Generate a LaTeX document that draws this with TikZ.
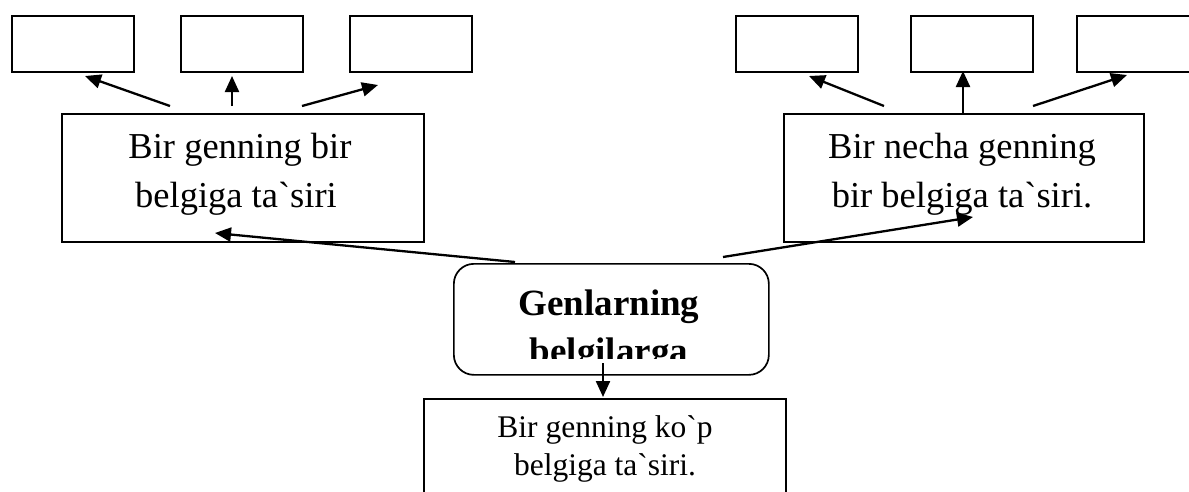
\documentclass[tikz,border=0pt]{standalone}
\usepackage{fontspec}
\setmainfont{Liberation Serif}
\usetikzlibrary{arrows.meta}
\begin{document}
\begin{tikzpicture}[x=1pt,y=-1pt,
  emptybox/.style={draw,line width=1.5pt,minimum width=122pt,minimum height=56pt,anchor=north west,inner sep=0pt},
  bigbox/.style={draw,line width=1.7pt,anchor=north west,inner sep=0pt},
  bigtxt/.style={anchor=base,inner sep=0pt,font=\fontsize{36.5}{49}\selectfont},
  smalltxt/.style={anchor=base,inner sep=0pt,font=\fontsize{31.5}{38}\selectfont},
  boldtxt/.style={anchor=base,inner sep=0pt,font=\fontsize{37}{49}\selectfont\bfseries},
  arr/.style={-{Triangle[length=16pt,width=14pt]},line width=2.3pt}]
\useasboundingbox (0,0) rectangle (1189,491);
\fill[white] (0,0) rectangle (1189,491);
% top-left small boxes
\node[emptybox] (tl1) at (11,15) {};
\node[emptybox] (tl2) at (180,15) {};
\node[emptybox] (tl3) at (349,15) {};
% top-right small boxes
\node[emptybox] (tr1) at (735,15) {};
\node[emptybox] (tr2) at (910,15) {};
\node[emptybox] (tr3) at (1076,15) {};
% main boxes
\node[bigbox,minimum width=362pt,minimum height=128pt] (L) at (61,113) {};
\node[bigbox,minimum width=360pt,minimum height=128pt] (R) at (783,113) {};
\node[bigbox,minimum width=362pt,minimum height=120pt] (B) at (423,398) {};
\node[draw,line width=1.7pt,rounded corners=20pt,minimum width=315pt,minimum height=111pt,anchor=north west,inner sep=0pt] (C) at (453,263) {};
% texts
\node[bigtxt] (L1) at (240,158) {Bir genning bir};
\node[bigtxt] (L2) at (236,207) {belgiga ta\textasciigrave siri};
\node[bigtxt] (R1) at (962,158) {Bir necha genning};
\node[bigtxt] (R2) at (962,207) {bir belgiga ta\textasciigrave siri.};
\node[smalltxt] (B1) at (605,437) {Bir genning ko\textasciigrave p};
\node[smalltxt] (B2) at (605,475) {belgiga ta\textasciigrave siri.};
\node[boldtxt] (C1) at (609,315) {Genlarning};
\begin{scope}
\clip (453,263) rectangle (768,358);
\node[boldtxt] (C2) at (609,363) {belgilarga};
\end{scope}
% arrow coordinates
\coordinate (a1s) at (170,106); \coordinate (a1e) at (85,76);
\coordinate (a2s) at (232,106); \coordinate (a2e) at (232,76);
\coordinate (a3s) at (302,106); \coordinate (a3e) at (378,85);
\coordinate (b1s) at (884,106); \coordinate (b1e) at (809,76);
\coordinate (b2s) at (963,113); \coordinate (b2e) at (963,71);
\coordinate (b3s) at (1033,106); \coordinate (b3e) at (1127,75);
\coordinate (c1s) at (515,262); \coordinate (c1e) at (215,233);
\coordinate (c2s) at (723,257); \coordinate (c2e) at (973,217);
\coordinate (c3s) at (603,363); \coordinate (c3e) at (603,397);
\foreach \s/\e in {a1s/a1e,a2s/a2e,a3s/a3e,b1s/b1e,b2s/b2e,b3s/b3e,c1s/c1e,c2s/c2e,c3s/c3e}
  \draw[arr] (\s) -- (\e);
\end{tikzpicture}
\end{document}
